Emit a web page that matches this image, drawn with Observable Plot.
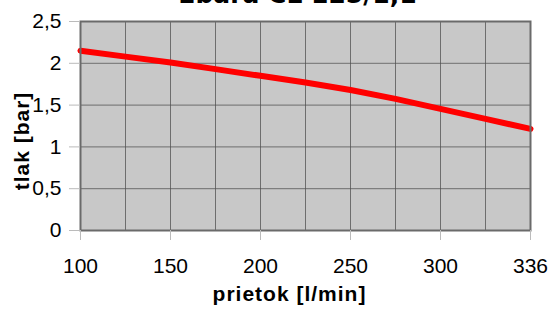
<!DOCTYPE html>
<html>
<head>
<meta charset="utf-8">
<script src="https://cdn.jsdelivr.net/npm/d3@7"></script>
<script src="https://cdn.jsdelivr.net/npm/@observablehq/plot@0.6"></script>
<style>
  html, body { margin: 0; padding: 0; background: #fff; overflow: hidden; }
  #wrap { position: relative; width: 552px; height: 309px; }
  #title { position: absolute; left: 0; width: 595px; text-align: center; top: -16px;
    font: bold 25px/22px "DejaVu Sans", sans-serif; color: #000; white-space: nowrap; }
  #chart { position: absolute; left: 0; top: 0; }
</style>
</head>
<body>
<div id="wrap">
  <div id="chart"></div>
  <div id="title"></div>
</div>
<script>
const title = "Ebara CL 125/1,1";
const flow = [100, 125, 150, 175, 200, 225, 250, 275, 300, 325, 336];
const pressure = [2.15, 2.08, 2.01, 1.93, 1.85, 1.77, 1.68, 1.575, 1.455, 1.335, 1.215];
const xTickLabels = [100, 150, 200, 250, 300, 336];
const yTicks = [0, 0.5, 1, 1.5, 2, 2.5];
const xLabel = "prietok [l/min]";
const yLabel = "tlak [bar]";

document.getElementById("title").textContent = title;
const data = flow.map((f, i) => ({flow: f, p: pressure[i]}));
const fmt = d => String(d).replace(".", ",");

const chart = Plot.plot({
  width: 552,
  height: 309,
  marginLeft: 80,
  marginRight: 22,
  marginTop: 21,
  marginBottom: 79,
  style: {fontFamily: "'Liberation Sans', Arial, sans-serif", background: "transparent", overflow: "visible"},
  x: {type: "point", domain: flow, padding: 0},
  y: {domain: [0, 2.5]},
  marks: [
    Plot.frame({fill: "#c8c8c8"}),
    Plot.gridX({stroke: "#505050", strokeOpacity: 0.75, strokeWidth: 1}),
    Plot.gridY(yTicks, {stroke: "#505050", strokeOpacity: 0.75, strokeWidth: 1}),
    Plot.line(data, {x: "flow", y: "p", stroke: "#ff0000", strokeWidth: 6}),
    Plot.frame({stroke: "#6a6a6a", strokeWidth: 2}),
    Plot.axisY(yTicks, {tickFormat: fmt, tickSize: 11, tickPadding: 8, fontSize: 21, stroke: "#bbb", fill: "#000", label: null}),
    Plot.axisX(xTickLabels, {tickSize: 10, tickPadding: 18, fontSize: 21, stroke: "#bbb", fill: "#000", label: null}),
    Plot.text([yLabel], {frameAnchor: "left", textAnchor: "middle", lineAnchor: "middle", dx: -58, dy: 15, rotate: -90, fontSize: 21, fontWeight: "bold", fill: "#000"}),
    Plot.text([xLabel], {frameAnchor: "bottom", textAnchor: "middle", lineAnchor: "middle", dx: -16, dy: 64, fontSize: 21, fontWeight: "bold", fill: "#000"})
  ]
});
d3.select(chart).selectAll("text").filter(function() {
  const t = this.textContent;
  return t === xLabel || t === yLabel;
}).style("letter-spacing", "1px");
document.getElementById("chart").appendChild(chart);
</script>
</body>
</html>
